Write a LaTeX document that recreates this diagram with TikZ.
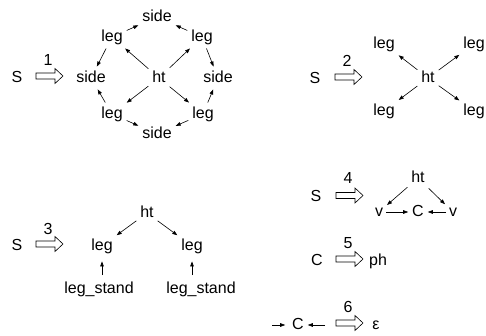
\documentclass[tikz,border=0pt]{standalone}
\usepackage{fontspec}
\setmainfont{Liberation Sans}
\usetikzlibrary{arrows.meta}
\tikzset{
  lbl/.style={font=\fontsize{16}{19}\selectfont, inner sep=4pt, outer sep=0pt, text height=11.5pt, text depth=3.4pt},
  num/.style={font=\fontsize{16}{19}\selectfont, inner sep=0pt},
  conn/.style={line width=0.6pt, -{Triangle[length=5pt,width=3.6pt]}},
  bigarrow/.pic={\draw[line width=0.6pt] (0,-3) -- (19,-3) -- (19,-7.5) -- (27,0) -- (19,7.5) -- (19,3) -- (0,3) -- cycle;}
}
\begin{document}
\begin{tikzpicture}[x=1pt,y=-1pt]
\useasboundingbox (0,0) rectangle (486,336);
% ---------- panel 1
\node[lbl] (S1) at (17,78) {S};
\pic at (36,76) {bigarrow};
\node[num] (n1) at (48,60) {1};
\node[lbl] (sL) at (91,78) {side};
\node[lbl] (ht1) at (159,78) {ht};
\node[lbl] (sR) at (218,78) {side};
\node[lbl] (sT) at (157,17) {side};
\node[lbl] (lTL) at (112,37) {leg};
\node[lbl] (lTR) at (202,37) {leg};
\node[lbl] (lBL) at (112,114) {leg};
\node[lbl] (lBR) at (203,114) {leg};
\node[lbl] (sB) at (157,134) {side};
\draw[conn] (ht1) -- (lTL);
\draw[conn] (ht1) -- (lTR);
\draw[conn] (ht1) -- (lBL);
\draw[conn] (ht1) -- (lBR);
\draw[conn] (lTL) -- (sL);
\draw[conn] (lTL) -- (sT);
\draw[conn] (lTR) -- (sT);
\draw[conn] (lTR) -- (sR);
\draw[conn] (lBL) -- (sL);
\draw[conn] (lBL) -- (sB);
\draw[conn] (lBR) -- (sR);
\draw[conn] (lBR) -- (sB);
% ---------- panel 2
\node[lbl] (S2) at (315,79) {S};
\pic at (335,77) {bigarrow};
\node[num] (n2) at (347,61) {2};
\node[lbl] (ht2) at (428,78) {ht};
\node[lbl] (g1) at (384,44) {leg};
\node[lbl] (g2) at (474,44) {leg};
\node[lbl] (g3) at (384,111) {leg};
\node[lbl] (g4) at (474,111) {leg};
\draw[conn] (ht2) -- (g1);
\draw[conn] (ht2) -- (g2);
\draw[conn] (ht2) -- (g3);
\draw[conn] (ht2) -- (g4);
% ---------- panel 3
\node[lbl] (S3) at (17,246) {S};
\pic at (36,244) {bigarrow};
\node[num] (n3) at (48,229) {3};
\node[lbl] (ht3) at (147,213) {ht};
\node[lbl] (k1) at (102,246) {leg};
\node[lbl] (k2) at (192,246) {leg};
\node[lbl] (ls1) at (99,289) {leg\_stand};
\node[lbl] (ls2) at (201,289) {leg\_stand};
\draw[conn] (ht3) -- (k1);
\draw[conn] (ht3) -- (k2);
\draw[conn, shorten <=2.5pt, shorten >=4pt] (ls1.north -| k1.south) -- (k1.south);
\draw[conn, shorten <=2.5pt, shorten >=4pt] (ls2.north -| k2.south) -- (k2.south);
% ---------- panel 4
\node[lbl] (S4) at (316,197) {S};
\pic at (336,195.5) {bigarrow};
\node[num] (n4) at (348,178) {4};
\node[lbl] (ht4) at (418,178) {ht};
\node[lbl] (v1) at (379,212) {v};
\node[lbl] (C4) at (418,212) {C};
\node[lbl] (v2) at (453,212) {v};
\draw[conn] (ht4) -- (v1);
\draw[conn] (ht4) -- (v2);
\draw[conn, shorten <=-1pt] (v1) -- (C4);
\draw[conn, shorten <=-1pt] (v2) -- (C4);
% ---------- panel 5
\node[lbl] (C5) at (317,261) {C};
\pic at (336,259) {bigarrow};
\node[num] (n5) at (348,243) {5};
\node[lbl] (ph) at (378,261) {ph};
% ---------- panel 6
\coordinate (a6) at (272,325);
\coordinate (b6) at (325,325);
\node[lbl] (C6) at (298,325) {C};
\pic at (336,323) {bigarrow};
\node[num] (n6) at (348,307) {6};
\node[lbl] (eps) at (376,325) {ε};
\draw[conn, shorten >=3pt] (a6) -- (C6);
\draw[conn] (b6) -- (C6);
\end{tikzpicture}
\end{document}
